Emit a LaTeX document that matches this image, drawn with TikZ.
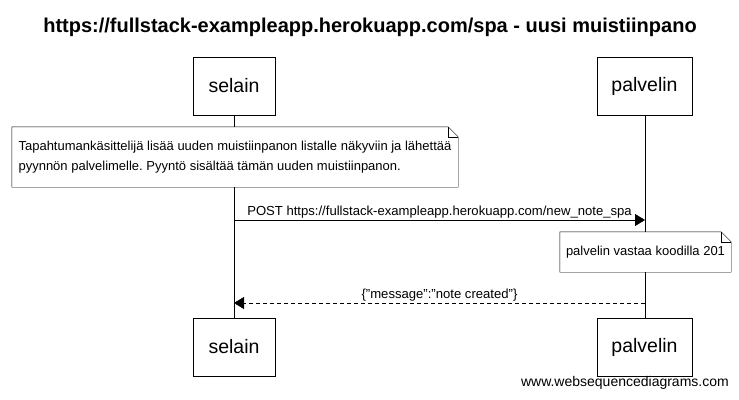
\documentclass[tikz,border=0pt]{standalone}
\usepackage{fontspec}
\setmainfont{Liberation Sans}
\usetikzlibrary{arrows.meta}
\frenchspacing

\tikzset{
    actor/.style={draw, thick, fill=white, minimum height=58pt, inner sep=0pt,
                  font=\fontsize{19.5}{22}\selectfont},
    notebox/.style={fill=white, inner sep=5pt, font=\fontsize{13}{20}\selectfont},
    msg/.style={font=\fontsize{13.1}{14}\selectfont, inner sep=2pt, anchor=south},
    lifeline/.style={thin},
}

\newcommand{\dogear}[1]{%
    \draw (#1.south west) -- (#1.north west) -- ([xshift=-10pt]#1.north east)
        -- ([yshift=-10pt]#1.north east) -- (#1.south east) -- cycle;
    \draw ([xshift=-10pt]#1.north east) |- ([yshift=-10pt]#1.north east);
}

\begin{document}
\begin{tikzpicture}[x=1pt, y=-1pt]
    \useasboundingbox[fill=white] (0,0) rectangle (739,399);

    % =========================================================
    % Otsikko
    % =========================================================
    \node[font=\fontsize{20}{22}\selectfont\bfseries] (title) at (370,27)
        {https://fullstack-exampleapp.herokuapp.com/spa - uusi muistiinpano};

    % Elinviivat
    \coordinate (selainTop) at (234,115);
    \coordinate (selainBot) at (234,318);
    \coordinate (palvelinTop) at (645,115);
    \coordinate (palvelinBot) at (645,318);
    \draw[lifeline] (selainTop) -- (selainBot);
    \draw[lifeline] (palvelinTop) -- (palvelinBot);

    % =========================================================
    % Osallistujat (ylhaalla ja alhaalla)
    % =========================================================
    \node[actor, minimum width=82pt] (selainA) at (234,86) {selain};
    \node[actor, minimum width=95pt] (palvelinA) at (644.5,86) {palvelin};
    \node[actor, minimum width=82pt] (selainB) at (234,347) {selain};
    \node[actor, minimum width=95pt] (palvelinB) at (644.5,347) {palvelin};

    % =========================================================
    % Muistiinpano selaimen kohdalla
    % =========================================================
    \node[notebox, minimum width=446pt, minimum height=60pt, align=left]
        (note1) at (235,157)
        {Tapahtumankäsittelijä lisää uuden muistiinpanon listalle näkyviin ja lähettää\\
         pyynnön palvelimelle. Pyyntö sisältää tämän uuden muistiinpanon.};
    \dogear{note1}

    % POST-pyynto
    \coordinate (postA) at (234,220);
    \coordinate (postB) at (645,220);
    \draw[-{Triangle[length=10pt,width=12pt]}] (postA) -- (postB)
        node[msg, pos=0.5] (postLbl)
        {POST https://fullstack-exampleapp.herokuapp.com/new\_note\_spa};

    % Palvelimen muistiinpano
    \node[notebox, minimum width=171pt, minimum height=40pt] (note2) at (645.5,252)
        {palvelin vastaa koodilla 201};
    \dogear{note2}

    % Vastaus
    \coordinate (respA) at (645,303);
    \coordinate (respB) at (234,303);
    \draw[dashed, dash pattern=on 4pt off 3pt, -{Triangle[length=10pt,width=12pt]}]
        (respA) -- (respB)
        node[msg, pos=0.5] (respLbl) {\{"message":"note created"\}};

    % Vesileima
    \node[anchor=south east, inner sep=0pt, font=\fontsize{14}{16}\selectfont]
        (wsd) at (729,390) {www.websequencediagrams.com};
\end{tikzpicture}
\end{document}
